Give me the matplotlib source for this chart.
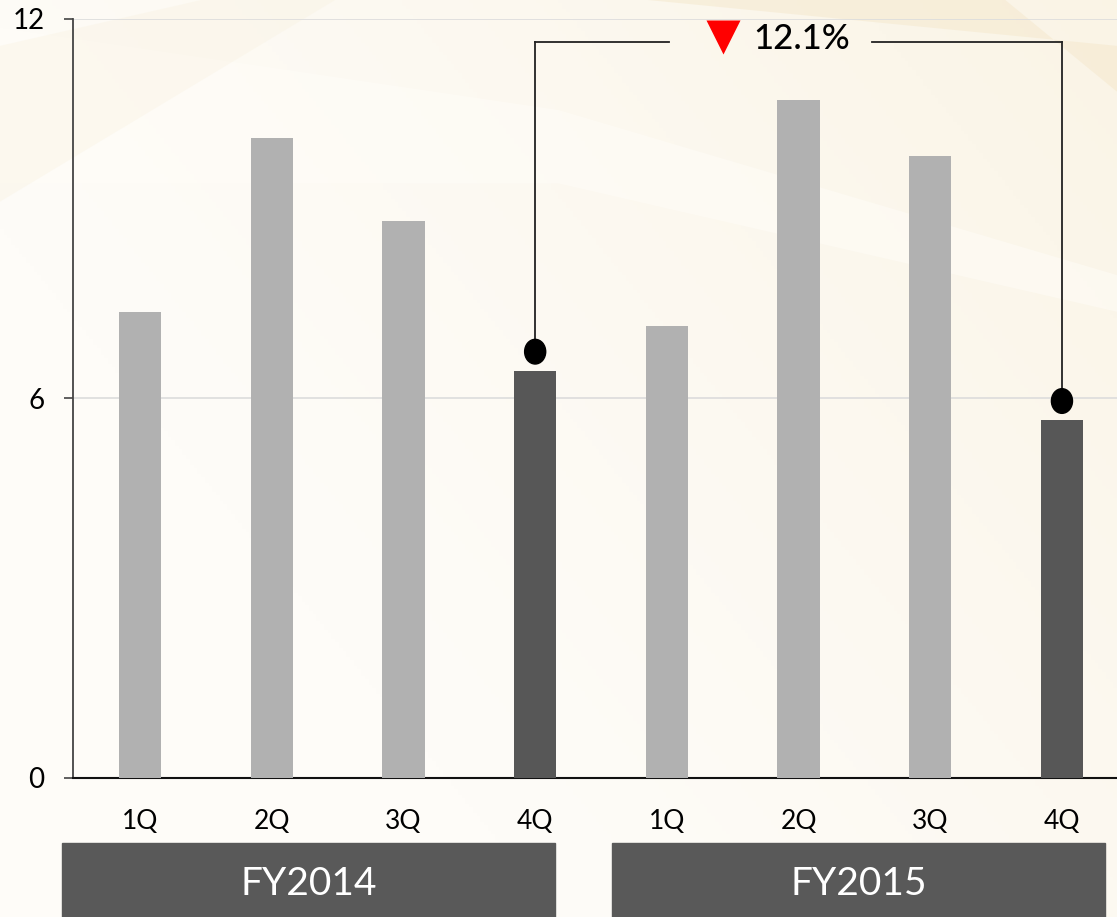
import numpy as np
import matplotlib.pyplot as plt
from matplotlib.patches import Rectangle, Ellipse, Polygon
from matplotlib.transforms import blended_transform_factory

plt.rcParams['font.family'] = ['Lato', 'DejaVu Sans']

# quarterly values, two fiscal years
years = ["FY2014", "FY2015"]
quarters = ["1Q", "2Q", "3Q", "4Q"]
fy2014 = [7.36, 10.12, 8.81, 6.44]
fy2015 = [7.14, 10.72, 9.84, 5.66]

values = fy2014 + fy2015
labels = quarters * len(years)
x = np.arange(len(values))
highlight = [3, 7]  # the two 4Q bars that get compared

light_grey = "#b1b1b1"
dark_grey = "#575757"

fig = plt.figure(figsize=(11.17, 9.17), dpi=100)

# cream background with a soft beige wash towards the top right
bg = fig.add_axes([0, 0, 1, 1], zorder=-10)
gx, gy = np.meshgrid(np.linspace(0, 1, 300), np.linspace(0, 1, 300))
base = np.array([254, 252, 248]) / 255
warm = np.array([248, 240, 220]) / 255
w = np.clip(0.6 * gx + 0.4 * gy - 0.3, 0, 1) ** 1.2
img = base[None, None, :] * (1 - w[..., None]) + warm[None, None, :] * w[..., None]
bg.imshow(img, extent=[0, 1, 0, 1], origin="lower", aspect="auto")
bg.add_patch(Polygon([[0, 0.8], [0, 0.97], [0.5, 0.88], [1, 0.7], [1, 0.66], [0.5, 0.8]],
                     closed=True, color="#fffdf8", alpha=0.5, lw=0))
bg.add_patch(Polygon([[0.58, 1], [0.9, 1], [1, 0.9], [1, 0.95]],
                     closed=True, color="#f4e6c8", alpha=0.45, lw=0))
bg.add_patch(Polygon([[0, 0.78], [0, 0.95], [0.18, 1], [0.3, 1]],
                     closed=True, color="#f8f0dc", alpha=0.3, lw=0))
bg.set_xlim(0, 1)
bg.set_ylim(0, 1)
bg.axis("off")

ax = fig.add_axes([0.0654, 0.1516, 0.9346, 0.8277])
ax.patch.set_alpha(0)

colors = [dark_grey if i in highlight else light_grey for i in x]
ax.bar(x, values, width=0.32, color=colors, zorder=3)

ax.set_xlim(-0.509, 7.418)
ax.set_ylim(0, 12)
ax.set_yticks([0, 6, 12])
ax.yaxis.grid(True, color="#dcdcdc", lw=1.2, zorder=0)
ax.tick_params(axis="y", direction="out", length=6.5, width=1.2, color="#444444",
               labelsize=20, pad=14)
ax.set_xticks(x)
ax.set_xticklabels(labels)
ax.tick_params(axis="x", length=0, labelsize=19, pad=22)
for side in ["top", "right"]:
    ax.spines[side].set_visible(False)
ax.spines["left"].set_color("#444444")
ax.spines["left"].set_linewidth(1.3)
ax.spines["bottom"].set_color("#111111")
ax.spines["bottom"].set_linewidth(1.5)

# fiscal year boxes under the quarter labels
trans = blended_transform_factory(ax.transData, fig.transFigure)
spans = [(-0.592, 3.151), (3.584, 7.327)]
for year, (x0, x1) in zip(years, spans):
    ax.add_patch(Rectangle((x0, 0), x1 - x0, 0.0807, transform=trans,
                           color="#595959", clip_on=False, zorder=5))
    ax.text((x0 + x1) / 2, 0.0365, year, transform=trans, ha="center", va="center",
            color="white", fontsize=28, fontweight="normal", zorder=6)

# 4Q comparison bracket
a, b = highlight
dot_off = 0.30
bracket_y = 11.64
for i in highlight:
    ax.add_patch(Ellipse((i, values[i] + dot_off), 0.16, 0.39, color="black",
                         zorder=6, clip_on=False))
    ax.plot([i, i], [values[i] + dot_off, bracket_y], color="#222222", lw=1.3, zorder=5)
ax.plot([a, 4.02], [bracket_y, bracket_y], color="#222222", lw=1.3, zorder=5)
ax.plot([5.56, b], [bracket_y, bracket_y], color="#222222", lw=1.3, zorder=5)

change = (values[b] - values[a]) / values[a] * 100
ax.plot(4.43, 11.72, marker="v", markersize=25, color="#ff0000", mec="none",
        zorder=6, clip_on=False)
ax.text(4.66, 11.68, f"{abs(change):.1f}%", ha="left", va="center", fontsize=25,
        color="black", fontweight="medium", zorder=6, clip_on=False)

fig.savefig("out.png", dpi=100)
